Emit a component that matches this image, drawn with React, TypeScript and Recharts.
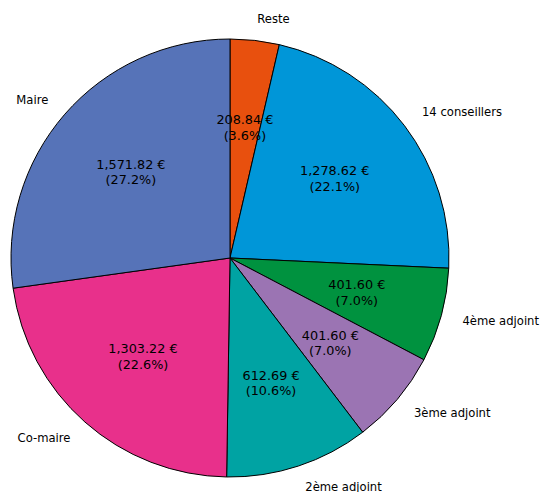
import React from "react";
import { PieChart, Pie, Cell } from "recharts";

const categories = [
  "Reste",
  "14 conseillers",
  "4ème adjoint",
  "3ème adjoint",
  "2ème adjoint",
  "Co-maire",
  "Maire",
];
const amounts = [208.84, 1278.62, 401.6, 401.6, 612.69, 1303.22, 1571.82];
const colors = ["#e8500e", "#0096d8", "#00923f", "#9b74b3", "#00a3a3", "#e8308b", "#5673b8"];

const data = categories.map((name, i) => ({ name, value: amounts[i] }));

const RAD = Math.PI / 180;
const FONT = "DejaVu Sans, sans-serif";

const fmt = (v: number) =>
  v.toLocaleString("en-US", { minimumFractionDigits: 2, maximumFractionDigits: 2 }) + " €";

const renderLabel = (props: any) => {
  const { cx, cy, midAngle, outerRadius, percent, value, name } = props;
  const cos = Math.cos(-midAngle * RAD);
  const sin = Math.sin(-midAngle * RAD);
  const ro = outerRadius * 1.1;
  const ri = outerRadius * 0.6;
  const ox = cx + ro * cos;
  const oy = cy + ro * sin;
  const ix = cx + ri * cos;
  const iy = cy + ri * sin;
  return (
    <g>
      <text
        x={ox}
        y={oy}
        textAnchor={ox > cx ? "start" : "end"}
        dominantBaseline="central"
        fontSize={11.6}
        fontFamily={FONT}
        fill="#000"
      >
        {name}
      </text>
      <text
        x={ix}
        y={iy - 7.7}
        textAnchor="middle"
        dominantBaseline="central"
        fontSize={12.8}
        fontFamily={FONT}
        fill="#000"
      >
        {fmt(value)}
      </text>
      <text
        x={ix}
        y={iy + 7.7}
        textAnchor="middle"
        dominantBaseline="central"
        fontSize={12.8}
        fontFamily={FONT}
        fill="#000"
      >
        {"(" + (percent * 100).toFixed(1) + "%)"}
      </text>
    </g>
  );
};

export default function App() {
  return (
    <div style={{ position: "absolute", left: 0, top: 0, background: "#fff" }}>
      <PieChart width={542} height={492} margin={{ top: 0, right: 0, bottom: 0, left: 0 }}>
        <Pie
          data={data}
          dataKey="value"
          nameKey="name"
          cx={230}
          cy={258}
          outerRadius={219}
          innerRadius={0}
          startAngle={90}
          endAngle={-270}
          stroke="#000"
          strokeWidth={1}
          label={renderLabel}
          labelLine={false}
          isAnimationActive={false}
        >
          {data.map((d, i) => (
            <Cell key={d.name} fill={colors[i]} />
          ))}
        </Pie>
      </PieChart>
    </div>
  );
}
